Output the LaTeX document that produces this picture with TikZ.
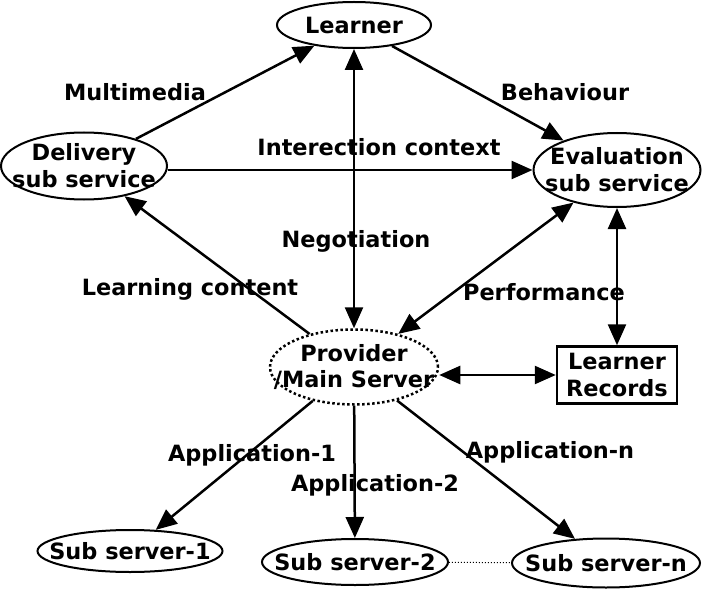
\documentclass[tikz,border=0pt]{standalone}
\usepackage{fontspec}
\setmainfont{DejaVu Sans}
\usetikzlibrary{shapes.geometric,arrows.meta}
\tikzset{
  svc/.style={ellipse,draw,line width=2bp,inner sep=0pt,label={[align=center,inner sep=0pt]center:#1}},
  lbl/.style={inner sep=0pt},
  tip/.style={Triangle[length=21bp,width=18bp]},
  link/.style={line width=2.5bp,-{Triangle[length=21bp,width=18bp]}},
  both/.style={line width=2.5bp,{Triangle[length=21bp,width=18bp]}-{Triangle[length=21bp,width=18bp]}},
}
\begin{document}
\begin{tikzpicture}[x=1bp,y=-1bp,font=\fontsize{22.5}{27}\selectfont\bfseries]
    \useasboundingbox (0,0) rectangle (703,594);

    % services
    \node[svc={Learner},minimum width=154bp,minimum height=46bp] (learner) at (354,25) {};
    \node[svc={Delivery\\sub service},minimum width=166bp,minimum height=67bp] (delivery) at (84,166) {};
    \node[svc={Evaluation\\sub service},minimum width=167bp,minimum height=74bp] (eval) at (617,170) {};
    \node[svc={Provider\\/Main Server},dash pattern=on 2.5bp off 2.5bp,line width=2.5bp,minimum width=168bp,minimum height=75bp] (provider) at (354,367) {};
    \node[draw,line width=2.5bp,align=center,inner sep=0pt,minimum width=120bp,minimum height=57bp] (records) at (617,375) {Learner\\Records};

    % sub servers
    \node[svc={Sub server-1},minimum width=185bp,minimum height=42bp] (sub1) at (130,551) {};
    \node[svc={Sub server-2},minimum width=186bp,minimum height=46bp] (sub2) at (355,562) {};
    \node[svc={Sub server-n},minimum width=188bp,minimum height=49bp] (subn) at (606,563) {};

    % connectors
    \draw[link] (delivery) -- (learner);
    \draw[link] (learner) -- (eval);
    \draw[link] (delivery.east |- eval.west) -- (eval.west);
    \draw[both] (learner) -- (provider);
    \draw[link] (provider) -- (delivery);
    \draw[both] (provider) -- (eval);
    \draw[both] (records) -- (eval);
    \draw[both] (provider.east |- records.west) -- (records.west);
    \draw[link] (provider) -- (sub1);
    \draw[link] (provider) -- (sub2);
    \draw[link] (provider) -- (subn);
    \draw[line width=1bp,dotted] (sub2) -- (subn);

    % labels
    \node[lbl] (lmulti) at (135,92) {Multimedia};
    \node[lbl] (lbehav) at (565,92) {Behaviour};
    \node[lbl] (linter) at (379,147) {Interection context};
    \node[lbl] (lnego) at (356,241) {Negotiation};
    \node[lbl] (lcontent) at (190,289) {Learning content};
    \node[lbl] (lperf) at (544,292) {Performance};
    \node[lbl] (lapp1) at (252,455) {Application-1};
    \node[lbl] (lapp2) at (375,485) {Application-2};
    \node[lbl] (lappn) at (550,452) {Application-n};
\end{tikzpicture}
\end{document}
